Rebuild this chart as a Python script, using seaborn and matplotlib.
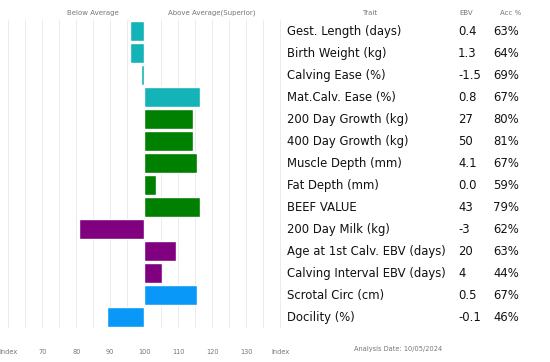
import matplotlib
matplotlib.use('Agg')
import matplotlib.pyplot as plt
import matplotlib.transforms as mtransforms
import seaborn as sns
import pandas as pd

# EBV table data
traits = ['Gest. Length (days)', 'Birth Weight (kg)', 'Calving Ease (%)', 'Mat.Calv. Ease (%)',
          '200 Day Growth (kg)', '400 Day Growth (kg)', 'Muscle Depth (mm)', 'Fat Depth (mm)',
          'BEEF VALUE', '200 Day Milk (kg)', 'Age at 1st Calv. EBV (days)',
          'Calving Interval EBV (days)', 'Scrotal Circ (cm)', 'Docility (%)']
ebv = ['0.4', '1.3', '-1.5', '0.8', '27', '50', '4.1', '0.0', '43', '-3', '20', '4', '0.5', '-0.1']
acc = ['63%', '64%', '69%', '67%', '80%', '81%', '67%', '59%', '79%', '62%', '63%', '44%', '67%', '46%']
index_vals = [95.8, 95.8, 99, 116.3, 114.3, 114.3, 115.4, 103.3, 116.3, 80.8, 109.3, 105.3, 115.4, 89]
groups = ['calving'] * 4 + ['growth'] * 5 + ['maternal'] * 3 + ['other'] * 2
group_colors = {'calving': '#14B3B8', 'growth': '#008000', 'maternal': '#800080', 'other': '#0A98F8'}

tick_vals = [60, 70, 80, 90, 100, 110, 120, 130, 140]
tick_labels = ['Index', '70', '80', '90', '100', '110', '120', '130', 'Index']

df = pd.DataFrame({'trait': traits, 'dev': [v - 100 for v in index_vals], 'group': groups})

sns.set_style('white')
plt.rcParams['font.family'] = ['DejaVu Sans']

W, H = 550, 362
fig = plt.figure(figsize=(5.5, 3.62), dpi=100)
ax = fig.add_axes([0, 1 - 328 / H, 281 / W, 308 / H])

sns.barplot(data=df, x='dev', y='trait', hue='group', palette=group_colors,
            orient='h', width=0.88, dodge=False, legend=False, ax=ax, saturation=1)

ax.set_xlim(-42.44, 40.2)
ax.set_xticks([t - 100 for t in tick_vals])
ax.set_xticklabels(tick_labels, fontsize=4.8, color='#777777')
ax.set_xticks([t - 100 for t in range(65, 140, 10)], minor=True)
ax.tick_params(axis='x', which='both', length=0, pad=15)
ax.grid(False)
ax.grid(True, axis='x', which='both', color='#ebebeb', linewidth=0.7)
ax.set_axisbelow(True)
ax.set_yticks([])
ax.set_xlabel('')
ax.set_ylabel('')
for s in ax.spines.values():
    s.set_visible(False)

# headers
hdr = dict(fontsize=5, color='#777777', ha='center', va='center')
fig.text(93 / W, 1 - 13 / H, 'Below Average', **hdr)
fig.text(212 / W, 1 - 13 / H, 'Above Average(Superior)', **hdr)
fig.text(370 / W, 1 - 13 / H, 'Trait', **hdr)
fig.text(466 / W, 1 - 13 / H, 'EBV', **hdr)
fig.text(511 / W, 1 - 13 / H, 'Acc %', **hdr)

# table rows
trans = mtransforms.blended_transform_factory(fig.transFigure, ax.transData)
row = dict(transform=trans, fontsize=8.4, color='#111111', ha='left', va='center')
for i, (t, e, a) in enumerate(zip(traits, ebv, acc)):
    fig.text(287 / W, i, t, **row)
    fig.text(458 / W, i, e, **row)
    fig.text(493 / W, i, a, **row)

fig.text(398 / W, 1 - 349 / H, 'Analysis Date: 10/05/2024', fontsize=4.8, color='#777777',
         ha='center', va='center')

fig.savefig('out.png', dpi=100)
